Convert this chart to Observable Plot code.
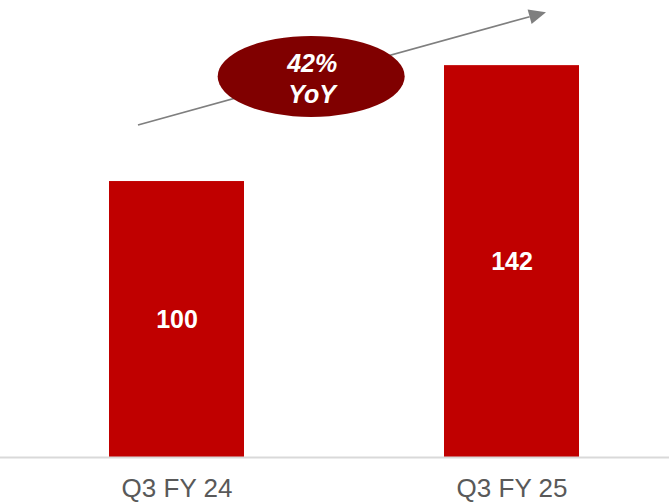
<!DOCTYPE html>
<html>
<head>
<meta charset="utf-8">
<script src="https://cdn.jsdelivr.net/npm/d3@7"></script>
<script src="https://cdn.jsdelivr.net/npm/@observablehq/plot@0.6"></script>
<style>
  html, body { margin: 0; padding: 0; background: #fff; }
  #chart svg { display: block; }
</style>
</head>
<body>
<div id="chart"></div>
<script>
const categories = ["Q3 FY 24", "Q3 FY 25"];
const values = [100, 142];
const growthLines = ["42%", "YoY"];

const data = categories.map((c, i) => ({category: c, value: values[i]}));
const font = "'Liberation Sans', Arial, sans-serif";

const plot = Plot.plot({
  width: 669,
  height: 502,
  marginTop: 0,
  marginBottom: 45,
  marginLeft: 0,
  marginRight: 0,
  style: {fontFamily: font, background: "#fff"},
  x: {domain: categories, range: [0, 669], paddingInner: 0.598, paddingOuter: 0.2946, align: 0.5457, axis: null},
  y: {domain: [0, 165.6], axis: null},
  marks: [
    Plot.barY(data, {x: "category", y: "value", fill: "#C00000"}),
    Plot.ruleY([0], {stroke: "#D9D9D9", strokeWidth: 2}),
    Plot.text(data, {x: "category", y: d => d.value / 2, text: d => String(d.value), fill: "#fff", fontSize: 25, fontWeight: "bold"}),
    Plot.text(data, {x: "category", y: 0, dy: 31, text: "category", fill: "#595959", fontSize: 26})
  ]
});

document.getElementById("chart").appendChild(plot);

// Annotation: growth arrow + ellipse, positioned via the plot's scales
const xs = plot.scale("x"), ys = plot.scale("y");
const bw = xs.bandwidth;
const cx = c => xs.apply(c) + bw / 2;
const x0 = cx(categories[0]), x1 = cx(categories[1]);
const lerpX = t => x0 + (x1 - x0) * t;

const svg = d3.select(plot);
const g = svg.append("g");

const ax1 = lerpX(-0.115), ay1 = ys.apply(120.3);
const ax2 = lerpX(1.103), ay2 = ys.apply(161.2);
const ang = Math.atan2(ay2 - ay1, ax2 - ax1);
const hl = 17, hw = 7.5;
const bx = ax2 - hl * Math.cos(ang), by = ay2 - hl * Math.sin(ang);
g.append("line")
  .attr("x1", ax1).attr("y1", ay1).attr("x2", bx).attr("y2", by)
  .attr("stroke", "#7F7F7F").attr("stroke-width", 1.6);
g.append("path")
  .attr("d", `M${ax2},${ay2}L${bx - hw * Math.sin(ang)},${by + hw * Math.cos(ang)}L${bx + hw * Math.sin(ang)},${by - hw * Math.cos(ang)}Z`)
  .attr("fill", "#7F7F7F");

const ex = lerpX(0.402), ey = ys.apply(137.9);
g.append("ellipse")
  .attr("cx", ex).attr("cy", ey).attr("rx", 93.5).attr("ry", 40.5)
  .attr("fill", "#800000");
g.selectAll("text.growth").data(growthLines).join("text")
  .attr("class", "growth")
  .attr("x", ex + 1)
  .attr("y", (d, i) => ey - 4.8 + i * 31)
  .attr("text-anchor", "middle")
  .attr("fill", "#fff")
  .attr("font-family", font)
  .attr("font-size", 25)
  .attr("font-weight", "bold")
  .attr("font-style", "italic")
  .text(d => d);
</script>
</body>
</html>
